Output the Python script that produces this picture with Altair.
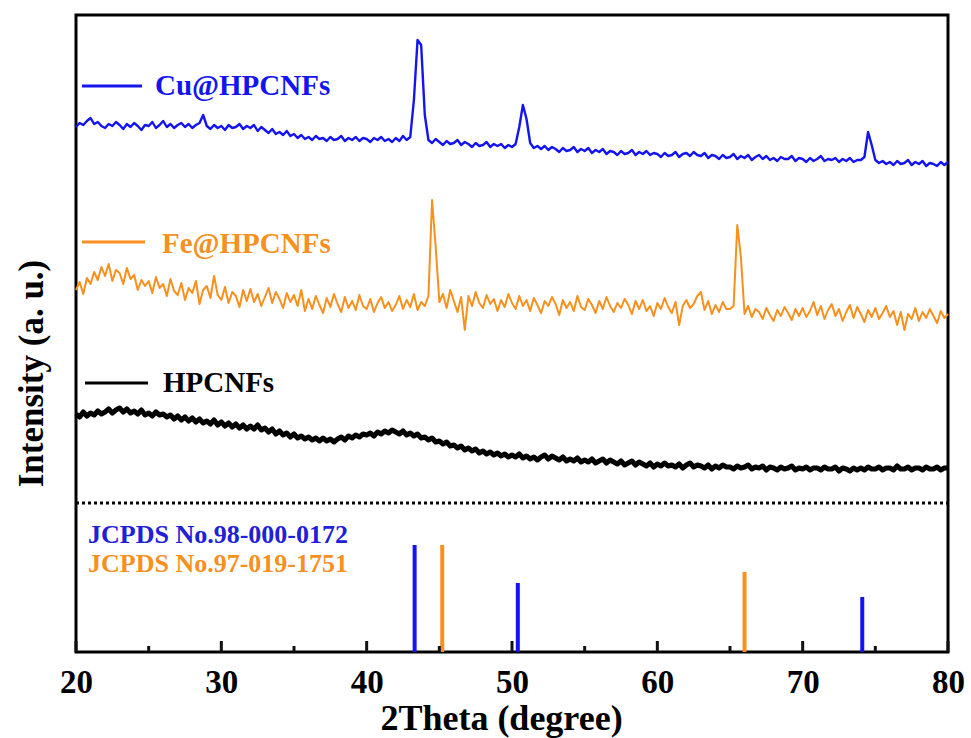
import altair as alt
import numpy as np
import pandas as pd

# ---- data ----
# sampling grid of the diffractograms (2theta, degree), 0.25 degree step
two_theta = np.round(np.arange(20.0, 80.0001, 0.25), 2)

cu_intensity = [
    525, 529, 527, 531,
    534, 528, 530, 526,
    524, 528, 526, 530,
    527, 523, 528, 525,
    529, 526, 522, 527,
    526, 530, 524, 527,
    531, 525, 528, 524,
    527, 529, 525, 528,
    524, 527, 529, 537,
    526, 523, 527, 524,
    526, 522, 527, 524,
    525, 528, 523, 526,
    524, 527, 521, 525,
    522, 519, 523, 518,
    520, 517, 521, 516,
    518, 514, 517, 513,
    515, 512, 516, 513,
    514, 511, 515, 512,
    513, 516, 511, 514,
    512, 515, 511, 514,
    513, 510, 514, 512,
    515, 511, 513, 510,
    514, 511, 516, 512,
    515, 552, 612, 607,
    537, 512, 509, 513,
    510, 507, 511, 508,
    509, 512, 507, 510,
    508, 505, 509, 506,
    507, 510, 505, 508,
    506, 508, 504, 507,
    505, 508, 525, 547,
    533, 509, 504, 506,
    503, 506, 502, 505,
    503, 500, 504, 501,
    502, 505, 500, 503,
    501, 504, 499, 502,
    500, 503, 498, 501,
    500, 497, 501, 498,
    499, 502, 497, 500,
    498, 501, 497, 499,
    498, 495, 499, 496,
    497, 500, 495, 498,
    499, 496, 500, 497,
    496, 499, 494, 497,
    496, 493, 497, 494,
    495, 498, 493, 496,
    494, 497, 492, 495,
    497, 493, 496, 492,
    494, 491, 495, 493,
    493, 496, 491, 494,
    493, 490, 494, 491,
    493, 496, 491, 493,
    492, 494, 490, 493,
    491, 494, 490, 492,
    492, 495, 520, 507,
    492, 489, 491, 488,
    490, 487, 491, 488,
    489, 492, 487, 490,
    488, 491, 486, 489,
    488, 486, 490, 487,
    490,
]

fe_intensity = [
    362, 370, 358, 374,
    368, 380, 372, 385,
    376, 388, 371, 382,
    379, 368, 384, 373,
    377, 362, 372, 366,
    371, 359, 375, 364,
    368, 356, 373, 361,
    357, 369, 352, 364,
    359, 371, 348, 362,
    366, 354, 376, 357,
    352, 365, 349, 360,
    356, 345, 362, 351,
    363, 350, 358, 346,
    355, 364, 349, 360,
    353, 344, 359, 350,
    357, 346, 362, 341,
    353, 343, 356, 347,
    339, 354, 345, 358,
    348, 340, 355, 344,
    351, 342, 357, 346,
    343, 353, 340, 349,
    355, 344, 350, 341,
    347, 356, 343, 352,
    345, 358, 342, 350,
    346, 356, 452, 405,
    350, 358, 344, 362,
    351, 340, 355, 322,
    356, 346, 360, 349,
    344, 357, 348, 353,
    341, 352, 345, 358,
    349, 343, 356, 346,
    352, 341, 354, 347,
    339, 351, 346, 355,
    348, 337, 352, 344,
    350, 341, 356, 345,
    342, 353, 347, 339,
    351, 343, 355, 346,
    340, 349, 344, 353,
    347, 338, 351, 343,
    352, 341, 346, 336,
    349, 343, 354, 345,
    339, 350, 327, 346,
    352, 344, 348, 356,
    360, 342, 351, 338,
    347, 340, 350, 343,
    343, 346, 427, 395,
    338, 346, 335, 343,
    340, 333, 344, 337,
    331, 342, 336, 345,
    339, 332, 343, 336,
    344, 335, 341, 350,
    337, 346, 333, 342,
    348, 336, 343, 331,
    340, 347, 334, 345,
    338, 330, 342, 335,
    344, 333, 339, 346,
    335, 341, 327, 340,
    322, 338, 333, 344,
    331, 340, 334, 343,
    336, 329, 341, 334,
    338,
]

hpcnf_intensity = [
    238, 235, 240, 236,
    239, 237, 241, 238,
    240, 243, 239, 242,
    244, 240, 243, 239,
    241, 238, 242, 237,
    239, 236, 240, 237,
    238, 235, 237, 233,
    236, 232, 235, 231,
    234, 230, 233, 229,
    231, 228, 232, 227,
    230, 226, 229, 225,
    228, 224, 227, 223,
    226, 223, 227, 222,
    224, 220, 223, 218,
    221, 217, 219, 215,
    218, 214, 216, 213,
    215, 212, 214, 211,
    214, 211, 213, 210,
    213, 215, 212, 216,
    214, 217, 215, 218,
    217, 219, 216, 220,
    218, 221, 219, 222,
    220, 218, 221, 217,
    219, 216, 218, 214,
    215, 212, 214, 210,
    211, 208, 210, 206,
    207, 204, 206, 202,
    204, 201, 203, 199,
    201, 198, 200, 197,
    199, 196, 198, 195,
    197, 195, 198, 194,
    196, 193, 195, 192,
    195, 197, 193, 196,
    194, 192, 195, 191,
    193, 191, 194, 190,
    192, 190, 193, 189,
    191, 193, 189, 192,
    190, 188, 191, 187,
    189, 191, 187, 190,
    188, 186, 189, 185,
    188, 186, 189, 186,
    187, 185, 188, 184,
    187, 189, 185, 187,
    186, 184, 187, 183,
    186, 184, 187, 185,
    185, 183, 186, 184,
    185, 187, 183, 185,
    184, 186, 182, 185,
    184, 182, 185, 183,
    184, 186, 182, 184,
    183, 185, 182, 184,
    184, 182, 185, 183,
    183, 185, 181, 184,
    183, 181, 184, 182,
    184, 182, 185, 183,
    183, 185, 182, 184,
    184, 182, 186, 183,
    183, 185, 182, 184,
    184, 182, 185, 183,
    183, 185, 182, 184,
    184,
]

# reference (JCPDS) stick patterns
cu_ref_pos = [43.3, 50.4, 74.1]
cu_ref_height = [107, 69, 55]
fe_ref_pos = [45.2, 66.0]
fe_ref_height = [107, 80]

major_ticks = [20, 30, 40, 50, 60, 70, 80]
minor_ticks = [25, 35, 45, 55, 65, 75]

# ---- styling ----
BLUE = "#1414f0"
ORANGE = "#f7901e"
BLACK = "#000000"
FONT = "Liberation Serif"
W, H = 872, 637

x_scale = alt.Scale(domain=[20, 80], nice=False, zero=False)
y_scale = alt.Scale(domain=[0, 637], nice=False, zero=False)


def trace(values, color, width):
    df = pd.DataFrame({"two_theta": two_theta, "intensity": values})
    return alt.Chart(df).mark_line(color=color, strokeWidth=width, strokeJoin="round").encode(
        x=alt.X("two_theta:Q", scale=x_scale),
        y=alt.Y("intensity:Q", scale=y_scale),
    )


base_df = pd.DataFrame({"two_theta": two_theta, "intensity": cu_intensity})
cu_line = alt.Chart(base_df).mark_line(color=BLUE, strokeWidth=2.4, strokeJoin="round").encode(
    x=alt.X(
        "two_theta:Q",
        scale=x_scale,
        axis=alt.Axis(
            values=major_ticks, format="d", ticks=False, tickSize=0, domain=False, grid=False,
            labelFlush=False, labelOverlap=False,
            labelFont=FONT, labelFontWeight="bold", labelFontSize=33, labelColor="black",
            labelBaseline="alphabetic", labelPadding=40,
            title="2Theta (degree)", titleFont=FONT, titleFontWeight="bold", titleFontSize=36,
            titleColor="black", titleBaseline="alphabetic", titleAlign="center",
            titleX=425, titleY=77,
        ),
    ),
    y=alt.Y(
        "intensity:Q",
        scale=y_scale,
        axis=alt.Axis(
            labels=False, ticks=False, domain=False, grid=False,
            title="Intensity (a. u.)", titleFont=FONT, titleFontWeight="bold", titleFontSize=35,
            titleColor="black", titleAngle=-90, titleBaseline="alphabetic", titleAlign="center",
            titleX=-34, titleY=358,
        ),
    ),
)
fe_line = trace(fe_intensity, ORANGE, 2)
hp_line = trace(hpcnf_intensity, BLACK, 5)


def sticks(pos, hts, color, width=4):
    df = pd.DataFrame({"two_theta": pos, "height": hts})
    return alt.Chart(df).transform_calculate(base="0").mark_rule(color=color, strokeWidth=width).encode(
        x=alt.X("two_theta:Q", scale=x_scale),
        y=alt.Y("base:Q", scale=y_scale),
        y2="height:Q",
    )


cu_sticks = sticks(cu_ref_pos, cu_ref_height, BLUE)
fe_sticks = sticks(fe_ref_pos, fe_ref_height, ORANGE)

# axis ticks pointing into the plot (drawn like the sticks, through the x scale)
major_rules = sticks(major_ticks, [11] * len(major_ticks), "#111111", 3)
minor_rules = sticks(minor_ticks, [6] * len(minor_ticks), "#111111", 3)

one = alt.Data(values=[{"k": 0}])

dotted = alt.Chart(one).mark_rule(color="black", strokeWidth=3, strokeDash=[3, 3]).encode(
    x=alt.value(0), x2=alt.value(W), y=alt.value(488)
)


def legend_item(label, color, lx1, lx2, ly, tx, ty):
    seg = alt.Chart(one).mark_rule(color=color, strokeWidth=3).encode(
        x=alt.value(lx1), x2=alt.value(lx2), y=alt.value(ly)
    )
    txt = alt.Chart(one).mark_text(
        text=label, color=color, font=FONT, fontWeight="bold", fontSize=29,
        align="left", baseline="alphabetic",
    ).encode(x=alt.value(tx), y=alt.value(ty))
    return seg + txt


leg_cu = legend_item("Cu@HPCNFs", BLUE, 6, 66, 71, 79, 80)
leg_fe = legend_item("Fe@HPCNFs", ORANGE, 6, 69, 227, 86, 238)
leg_hp = legend_item("HPCNFs", BLACK, 9, 72, 368, 87, 377)


def label(text, color, y):
    return alt.Chart(one).mark_text(
        text=text, color=color, font=FONT, fontWeight="bold", fontSize=26,
        align="left", baseline="alphabetic",
    ).encode(x=alt.value(12), y=alt.value(y))


jc1 = label("JCPDS No.98-000-0172", "#2020d8", 528)
jc2 = label("JCPDS No.97-019-1751", ORANGE, 557)

chart = alt.layer(
    cu_line, fe_line, hp_line, dotted, cu_sticks, fe_sticks,
    major_rules, minor_rules, leg_cu, leg_fe, leg_hp, jc1, jc2,
).properties(
    width=W, height=H,
    autosize=alt.AutoSizeParams(type="none"),
    padding={"left": 76, "top": 15, "right": 23, "bottom": 86},
    background="white",
).configure_view(
    stroke="black", strokeWidth=3
)

chart.save("out.html", embed_options={"renderer": "svg", "actions": False})
